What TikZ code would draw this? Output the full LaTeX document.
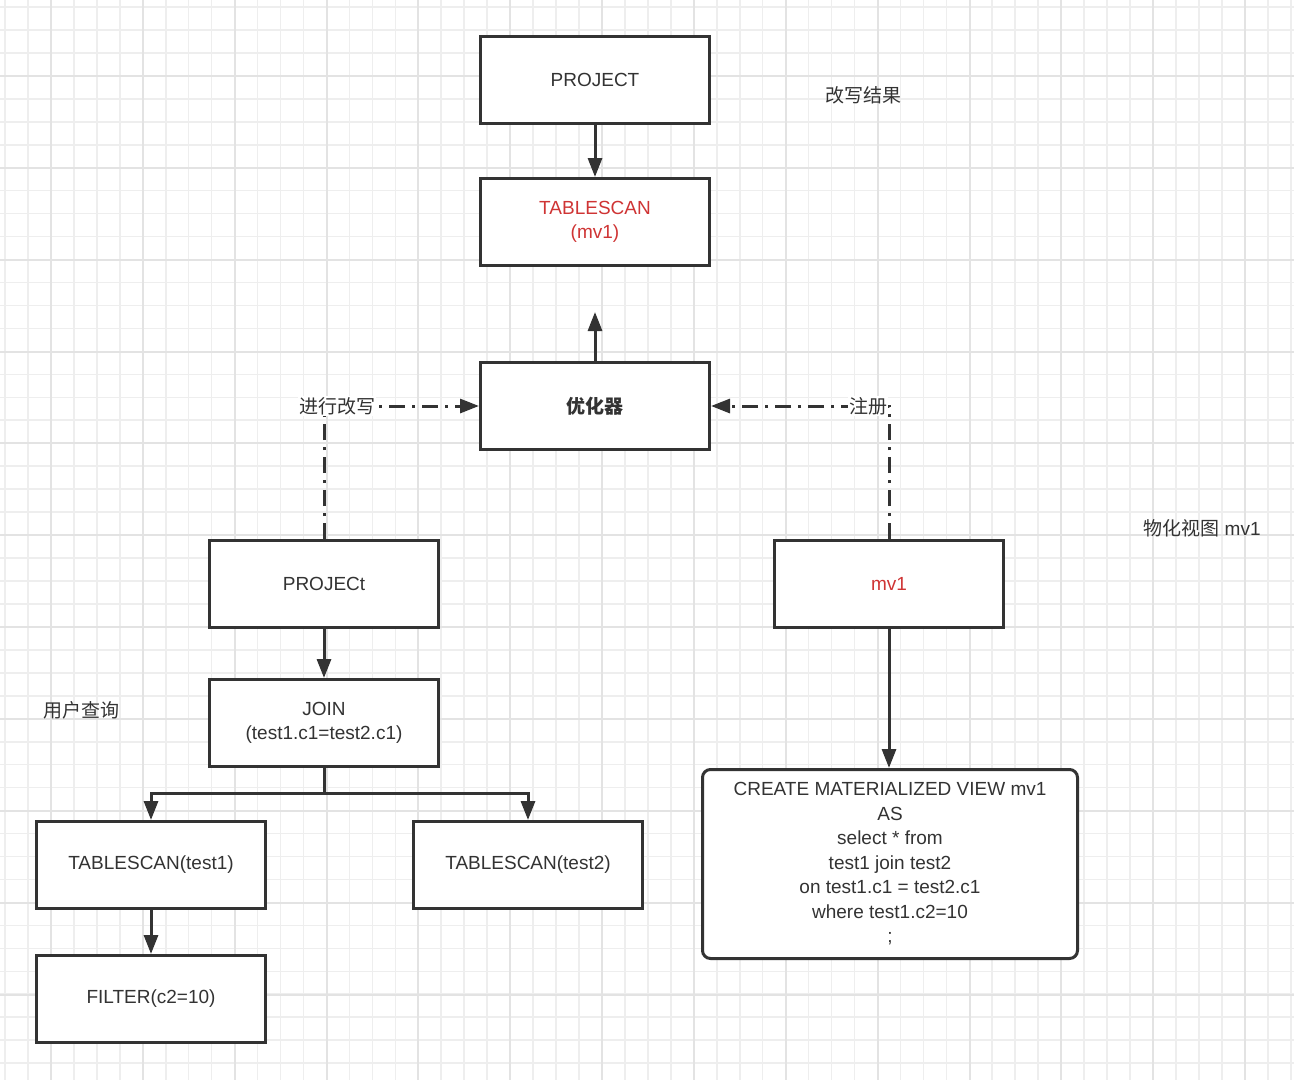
\documentclass[tikz,border=0pt]{standalone}
\usepackage{fontspec}
\setmainfont{Liberation Sans}
\newfontfamily\cjk{Noto Sans CJK SC}
\usetikzlibrary{arrows.meta}
\definecolor{ink}{HTML}{333333}
\definecolor{redtxt}{RGB}{207,52,52}
\definecolor{gridminor}{HTML}{EEEEEE}
\definecolor{gridmajor}{HTML}{E3E3E3}
\tikzset{
  opbox/.style={draw=ink, line width=3pt, fill=white, minimum width=229pt, minimum height=87pt,
    align=center, text=ink, font=\fontsize{19}{24}\selectfont, inner sep=2pt},
  sqlbox/.style={opbox, rounded corners=8pt, minimum width=375pt, minimum height=189pt},
  tip/.style={-{Triangle[length=19pt,width=14pt]}},
  arr/.style={draw=ink, line width=3pt, tip},
  plain/.style={draw=ink, line width=3pt},
  dashdotline/.style={draw=ink, line width=3pt, dash pattern=on 16pt off 7pt on 3pt off 7pt, tip},
  lbl/.style={text=ink, font=\fontsize{19}{24}\selectfont, inner sep=1pt},
  cornerlbl/.style={lbl, fill=white}
}
\begin{document}
\begin{tikzpicture}[x=1pt,y=-1pt]
\useasboundingbox (0,0) rectangle (1294,1080);
\fill[white] (0,0) rectangle (1294,1080);
% grid
\foreach \k in {0,...,56} {
  \pgfmathsetmacro\xx{5+22.96*\k}
  \draw[gridminor, line width=1.6pt] (\xx,0) -- (\xx,1080);
}
\foreach \k in {0,...,46} {
  \pgfmathsetmacro\yy{7+22.96*\k}
  \draw[gridminor, line width=1.6pt] (0,\yy) -- (1294,\yy);
}
\foreach \k in {0,...,13} {
  \pgfmathsetmacro\xx{51+91.85*\k}
  \draw[gridmajor, line width=2pt] (\xx,0) -- (\xx,1080);
}
\foreach \k in {0,...,11} {
  \pgfmathsetmacro\yy{76+91.85*\k}
  \draw[gridmajor, line width=2pt] (0,\yy) -- (1294,\yy);
}

% nodes
\node[opbox] (proj1) at (595,80) {PROJECT};
\node[opbox, text=redtxt] (tsmv) at (595,222) {TABLESCAN\\(mv1)};
\node[opbox, font=\fontsize{19}{24}\selectfont\cjk\bfseries] (opt) at (595,406) {优化器};
\node[opbox] (projL) at (324,584) {PROJECt};
\node[opbox] (join) at (324,723) {JOIN\\(test1.c1=test2.c1)};
\node[opbox] (ts1) at (151,865) {TABLESCAN(test1)};
\node[opbox] (ts2) at (528,865) {TABLESCAN(test2)};
\node[opbox] (filter) at (151,999) {FILTER(c2=10)};
\node[opbox, text=redtxt] (mv) at (889,584) {mv1};
\node[sqlbox, font=\fontsize{19}{24.5}\selectfont] (create) at (890,864)
  {CREATE MATERIALIZED VIEW mv1\\AS\\select * from\\test1 join test2\\on test1.c1 = test2.c1\\where test1.c2=10\\;};

% free labels
\node[lbl, font=\fontsize{19}{24}\selectfont\cjk] (l1) at (863,95) {改写结果};
\node[lbl] (l2) at (1202,528) {{\cjk 物化视图} mv1};
\node[lbl, font=\fontsize{19}{24}\selectfont\cjk] (l3) at (81,710) {用户查询};

% solid connectors
\draw[arr] (proj1.south) -- (tsmv.north);
\draw[arr] (opt.north) -- ++(0,-49) coordinate (optup);
\draw[arr] (projL.south) -- (join.north);
\draw[plain] (join.south) -- ++(0,25) coordinate (jb);
\draw[arr] (jb) -| (ts1.north);
\draw[arr] (jb) -| (ts2.north);
\draw[arr] (ts1.south) -- (filter.north);
\draw[arr] (mv.south) -- (mv.south |- create.north);

% dash-dot connectors
\coordinate (c1) at (projL.north |- opt.west);
\coordinate (c2) at (mv.north |- opt.east);
\draw[dashdotline] (projL.north) -- (c1) -- (opt.west);
\draw[dashdotline] (mv.north) -- (c2) -- (opt.east);
\node[cornerlbl, font=\fontsize{19}{24}\selectfont\cjk] (rw) at ([xshift=13pt]c1) {进行改写};
\node[cornerlbl, font=\fontsize{19}{24}\selectfont\cjk] (reg) at ([xshift=-21pt]c2) {注册};
\end{tikzpicture}
\end{document}
